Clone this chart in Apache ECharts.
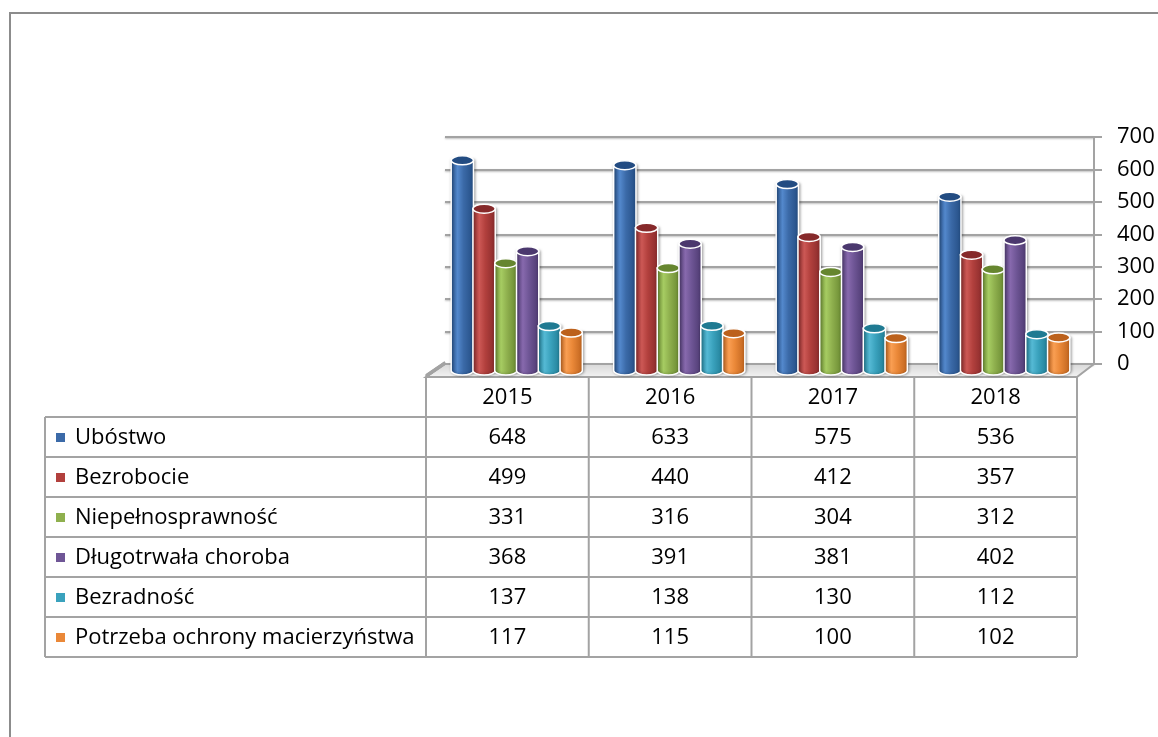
<!DOCTYPE html>
<html>
<head>
<meta charset="utf-8">
<script src="https://cdn.jsdelivr.net/npm/echarts@6/dist/echarts.min.js"></script>
<style>
  html, body { margin: 0; padding: 0; background: #fff; }
  #chart { width: 1158px; height: 737px; }
</style>
</head>
<body>
<div id="chart"></div>
<script>
// data
const years = ['2015', '2016', '2017', '2018'];
const seriesNames = [
  'Ubóstwo',
  'Bezrobocie',
  'Niepełnosprawność',
  'Długotrwała choroba',
  'Bezradność',
  'Potrzeba ochrony macierzyństwa'
];
const ubostwo = [648, 633, 575, 536];
const bezrobocie = [499, 440, 412, 357];
const niepelnosprawnosc = [331, 316, 304, 312];
const dlugotrwalaChoroba = [368, 391, 381, 402];
const bezradnosc = [137, 138, 130, 112];
const ochronaMacierzynstwa = [117, 115, 100, 102];
const yTicks = [0, 100, 200, 300, 400, 500, 600, 700];

const seriesValues = [ubostwo, bezrobocie, niepelnosprawnosc, dlugotrwalaChoroba, bezradnosc, ochronaMacierzynstwa];
// [dark, light, base] per series
const colors = [
  ['#234c82', '#5388cc', '#3b6aa8'],
  ['#86292a', '#cc5855', '#b2403d'],
  ['#66862f', '#a6cc62', '#8fb04e'],
  ['#4b386e', '#8769ad', '#6f5696'],
  ['#1f7a92', '#55b9d4', '#3aa2bd'],
  ['#bc611c', '#f99e52', '#ea8838']
];

const FONT = '"Open Sans", sans-serif';
const GRAY = '#a3a3a3';
const DEPTH_X = -19, DEPTH_Y = 13;

// wall / floor geometry
const wall = { left: 445, right: 1094, top: 137, bottom: 364 };
const front = { left: 426, right: 1077, y: 377 };

// table geometry
const table = { left: 45, labelRight: 426, right: 1077, top: 377, rowH: 40 };
const colW = (table.right - table.labelRight) / years.length;

const chart = echarts.init(document.getElementById('chart'));

const cylinder = (idx) => (params, api) => {
  const cat = api.value(0);
  const v = api.value(1);
  const base = api.coord([cat, 0]);
  const top = api.coord([cat, v]);
  const band = api.size([1, 0])[0];
  const pitch = band * 0.134;
  const w = pitch + 0.5;
  const cx = base[0] + (idx - 2.5) * pitch;
  const l = cx - w / 2, r = cx + w / 2;
  const ry = 4.5;
  const c = colors[idx];
  const grad = new echarts.graphic.LinearGradient(0, 0, 1, 0, [
    { offset: 0, color: c[0] },
    { offset: 0.3, color: c[1] },
    { offset: 0.55, color: c[2] },
    { offset: 1, color: c[0] }
  ]);
  return {
    type: 'group',
    children: [
      {
        type: 'path',
        shape: {
          pathData: `M${l},${top[1]} L${l},${base[1]} A${w / 2},${ry} 0 0 0 ${r},${base[1]} L${r},${top[1]} Z`
        },
        style: { fill: grad, stroke: '#fff', lineWidth: 1.5, shadowBlur: 3, shadowColor: 'rgba(0,0,0,0.35)', shadowOffsetX: 1 }
      },
      {
        type: 'ellipse',
        shape: { cx: cx, cy: top[1], rx: w / 2, ry: ry },
        style: { fill: c[0], stroke: '#fff', lineWidth: 1.5 }
      }
    ]
  };
};

const graphics = [];
// outer frame
graphics.push({ type: 'polyline', shape: { points: [[10, 737], [10, 13], [1158, 13]] }, style: { stroke: '#8c8c8c', lineWidth: 2, fill: null } });
// floor
graphics.push({
  type: 'polygon', z: 1,
  shape: { points: [[wall.left, wall.bottom], [wall.right, wall.bottom], [front.right, front.y], [front.left, front.y]] },
  style: {
    fill: new echarts.graphic.LinearGradient(0, 0, 0, 1, [{ offset: 0, color: '#d6d6d6' }, { offset: 1, color: '#f4f4f4' }]),
    stroke: GRAY, lineWidth: 2
  }
});

// table lines
const rows = seriesNames.length;
const tableBottom = table.top + table.rowH * (rows + 1);
for (let i = 0; i <= rows + 1; i++) {
  const y = table.top + i * table.rowH;
  const x0 = i === 0 ? table.labelRight : table.left;
  graphics.push({ type: 'line', z: 2, shape: { x1: x0, y1: y, x2: table.right, y2: y }, style: { stroke: GRAY, lineWidth: 2 } });
}
graphics.push({ type: 'line', z: 2, shape: { x1: table.left, y1: table.top + table.rowH, x2: table.left, y2: tableBottom }, style: { stroke: GRAY, lineWidth: 2 } });
for (let j = 0; j <= years.length; j++) {
  const x = table.labelRight + j * colW;
  graphics.push({ type: 'line', z: 2, shape: { x1: x, y1: table.top, x2: x, y2: tableBottom }, style: { stroke: GRAY, lineWidth: 2 } });
}
const TFONT = '22px ' + FONT;
// header
years.forEach((yr, j) => {
  graphics.push({
    type: 'text', z: 3,
    style: { text: yr, x: table.labelRight + (j + 0.5) * colW, y: table.top + table.rowH / 2 + 1, align: 'center', verticalAlign: 'middle', font: TFONT, fill: '#000' }
  });
});
// rows
seriesNames.forEach((name, i) => {
  const cy = table.top + (i + 1.5) * table.rowH + 1;
  graphics.push({ type: 'rect', z: 3, shape: { x: 56, y: cy - 5, width: 9, height: 9 }, style: { fill: colors[i][2] } });
  graphics.push({
    type: 'text', z: 3,
    style: { text: name, x: 75, y: cy, align: 'left', verticalAlign: 'middle', font: TFONT, fill: '#000' }
  });
  seriesValues[i].forEach((v, j) => {
    graphics.push({
      type: 'text', z: 3,
      style: { text: String(v), x: table.labelRight + (j + 0.5) * colW, y: cy, align: 'center', verticalAlign: 'middle', font: TFONT, fill: '#000' }
    });
  });
});

const option = {
  animation: false,
  grid: [
    { left: wall.left, width: wall.right - wall.left, top: wall.top, height: wall.bottom - wall.top },
    { left: 435.5, width: 650, top: 370.5 - 227, height: 227 }
  ],
  xAxis: [
    { gridIndex: 0, type: 'category', data: years, show: false },
    { gridIndex: 1, type: 'category', data: years, show: false }
  ],
  yAxis: [
    {
      gridIndex: 0, type: 'value', position: 'right', min: 0, max: 700, interval: 100,
      axisLine: { show: true, lineStyle: { color: GRAY, width: 2 } },
      axisTick: { show: true, length: 8, lineStyle: { color: GRAY, width: 2 } },
      axisLabel: { margin: 23, color: '#000', fontSize: 22, fontFamily: FONT },
      splitLine: { show: true, lineStyle: { color: GRAY, width: 2, shadowBlur: 2, shadowColor: 'rgba(0,0,0,0.25)', shadowOffsetY: 1 } }
    },
    { gridIndex: 1, type: 'value', min: 0, max: 700, show: false }
  ],
  series: [
    {
      // left wall depth lines at each tick
      type: 'custom', xAxisIndex: 0, yAxisIndex: 0, z: 1,
      data: yTicks.slice(1),
      renderItem: (params, api) => {
        const p = api.coord([0, api.value(0)]);
        const x = wall.left;
        return { type: 'line', shape: { x1: x, y1: p[1], x2: x + DEPTH_X, y2: p[1] + DEPTH_Y }, style: { stroke: GRAY, lineWidth: 2 } };
      }
    },
    ...seriesNames.map((name, idx) => ({
      name: name,
      type: 'custom', xAxisIndex: 1, yAxisIndex: 1, z: 5,
      data: seriesValues[idx].map((v, j) => [j, v]),
      renderItem: cylinder(idx)
    }))
  ],
  graphic: graphics
};

chart.setOption(option);
</script>
</body>
</html>
